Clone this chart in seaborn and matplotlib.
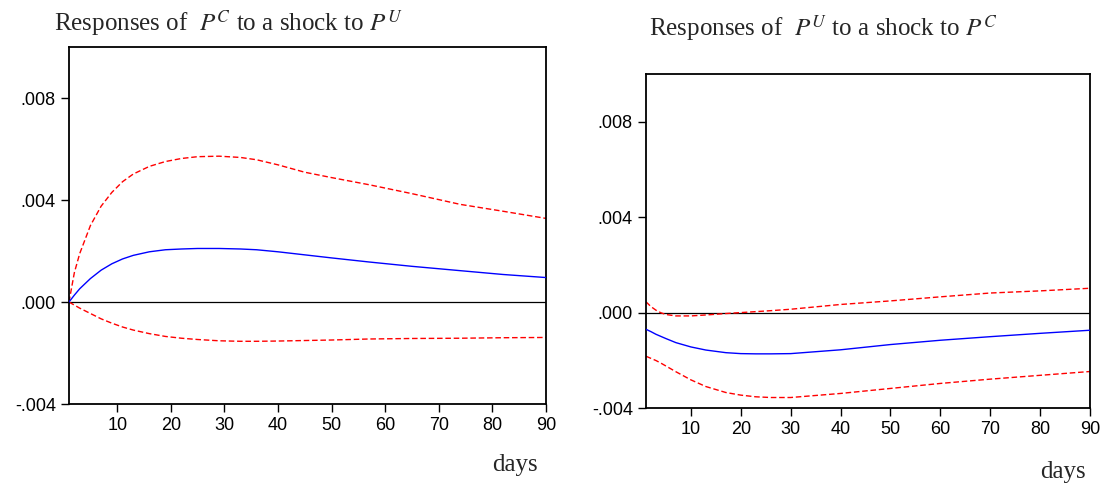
import matplotlib
matplotlib.use("Agg")
import matplotlib.pyplot as plt
import seaborn as sns
import pandas as pd

# ---- data ----
days_l = [1, 2, 3, 5, 7, 9, 11, 13, 16, 19, 22, 25, 29, 33, 36, 40, 45, 50, 57, 65, 74, 82, 90]
resp_l = [0.0, 0.00027, 0.00052, 0.00092, 0.00125, 0.00150, 0.00169, 0.00183, 0.00197, 0.00205,
          0.00208, 0.00210, 0.00210, 0.00208, 0.00205, 0.00197, 0.00185, 0.00173, 0.00157,
          0.00140, 0.00123, 0.00108, 0.00096]
up_l = [0.0, 0.00115, 0.00190, 0.00300, 0.00376, 0.00430, 0.00472, 0.00502, 0.00532, 0.00551,
        0.00563, 0.00570, 0.00572, 0.00567, 0.00558, 0.00538, 0.00509, 0.00488, 0.00460,
        0.00425, 0.00383, 0.00356, 0.00328]
lo_l = [0.0, -0.00012, -0.00024, -0.00045, -0.00066, -0.00083, -0.00098, -0.00110, -0.00124,
        -0.00135, -0.00142, -0.00147, -0.00152, -0.00154, -0.00154, -0.00153, -0.00151,
        -0.00149, -0.00145, -0.00143, -0.00142, -0.00140, -0.00139]

days_r = [1, 2, 3, 4, 5, 7, 10, 13, 17, 20, 23, 26, 30, 40, 50, 60, 70, 80, 90]
resp_r = [-0.00070, -0.00080, -0.00091, -0.00100, -0.00109, -0.00126, -0.00144, -0.00157,
          -0.00168, -0.00172, -0.00173, -0.00173, -0.00172, -0.00156, -0.00134, -0.00116,
          -0.00101, -0.00087, -0.00074]
up_r = [0.00045, 0.00025, 0.00010, -0.00001, -0.00008, -0.00014, -0.00014, -0.00010, -0.00004,
        0.00000, 0.00004, 0.00008, 0.00014, 0.00034, 0.00049, 0.00066, 0.00082, 0.00091, 0.00102]
lo_r = [-0.00183, -0.00192, -0.00201, -0.00212, -0.00224, -0.00248, -0.00282, -0.00310,
        -0.00335, -0.00346, -0.00353, -0.00356, -0.00356, -0.00339, -0.00318, -0.00297,
        -0.00279, -0.00263, -0.00247]

yticks = [-0.004, 0.0, 0.004, 0.008]
ytick_labels = ["-.004", ".000", ".004", ".008"]
xticks = [10, 20, 30, 40, 50, 60, 70, 80, 90]
titles = [r"Responses of  $P^{C}$ to a shock to $P^{U}$",
          r"Responses of  $P^{U}$ to a shock to $P^{C}$"]
xlabel = "days"

sns.set_style("white")
plt.rcParams["font.family"] = ["Liberation Sans", "DejaVu Sans"]
plt.rcParams["mathtext.fontset"] = "stix"

fig = plt.figure(figsize=(11.02, 4.87), dpi=100)
ax1 = fig.add_axes([0.0626, 0.1704, 0.4328, 0.733])
ax2 = fig.add_axes([0.5862, 0.1622, 0.4029, 0.6858])

panels = [
    (ax1, days_l, resp_l, up_l, lo_l),
    (ax2, days_r, resp_r, up_r, lo_r),
]

for ax, d, r, u, l in panels:
    df = pd.DataFrame({"day": d, "resp": r, "up": u, "lo": l})
    ax.axhline(0, color="black", lw=0.9, zorder=1)
    sns.lineplot(data=df, x="day", y="up", ax=ax, color="red", lw=1.0,
                 linestyle=(0, (4, 2)), zorder=2)
    sns.lineplot(data=df, x="day", y="lo", ax=ax, color="red", lw=1.0,
                 linestyle=(0, (4, 2)), zorder=2)
    sns.lineplot(data=df, x="day", y="resp", ax=ax, color="blue", lw=1.0, zorder=3)
    ax.set_xlim(1, 90)
    ax.set_ylim(-0.004, 0.010)
    ax.set_yticks(yticks)
    ax.set_yticklabels(ytick_labels)
    ax.set_xticks(xticks)
    ax.set_xticklabels([str(v) for v in xticks])
    ax.tick_params(direction="out", length=6, width=1, labelsize=13,
                   left=True, bottom=True, color="black", labelcolor="black")
    ax.set_xlabel("")
    ax.set_ylabel("")
    for s in ax.spines.values():
        s.set_color("black")
        s.set_linewidth(1.3)

fig.text(0.049, 0.952, titles[0], fontsize=18, family="Liberation Serif",
         ha="left", va="center")
fig.text(0.589, 0.942, titles[1], fontsize=18, family="Liberation Serif",
         ha="left", va="center")
fig.text(0.488, 0.045, xlabel, fontsize=18, family="Liberation Serif",
         ha="right", va="center")
fig.text(0.985, 0.030, xlabel, fontsize=18, family="Liberation Serif",
         ha="right", va="center")

fig.savefig("out.png", dpi=100)
